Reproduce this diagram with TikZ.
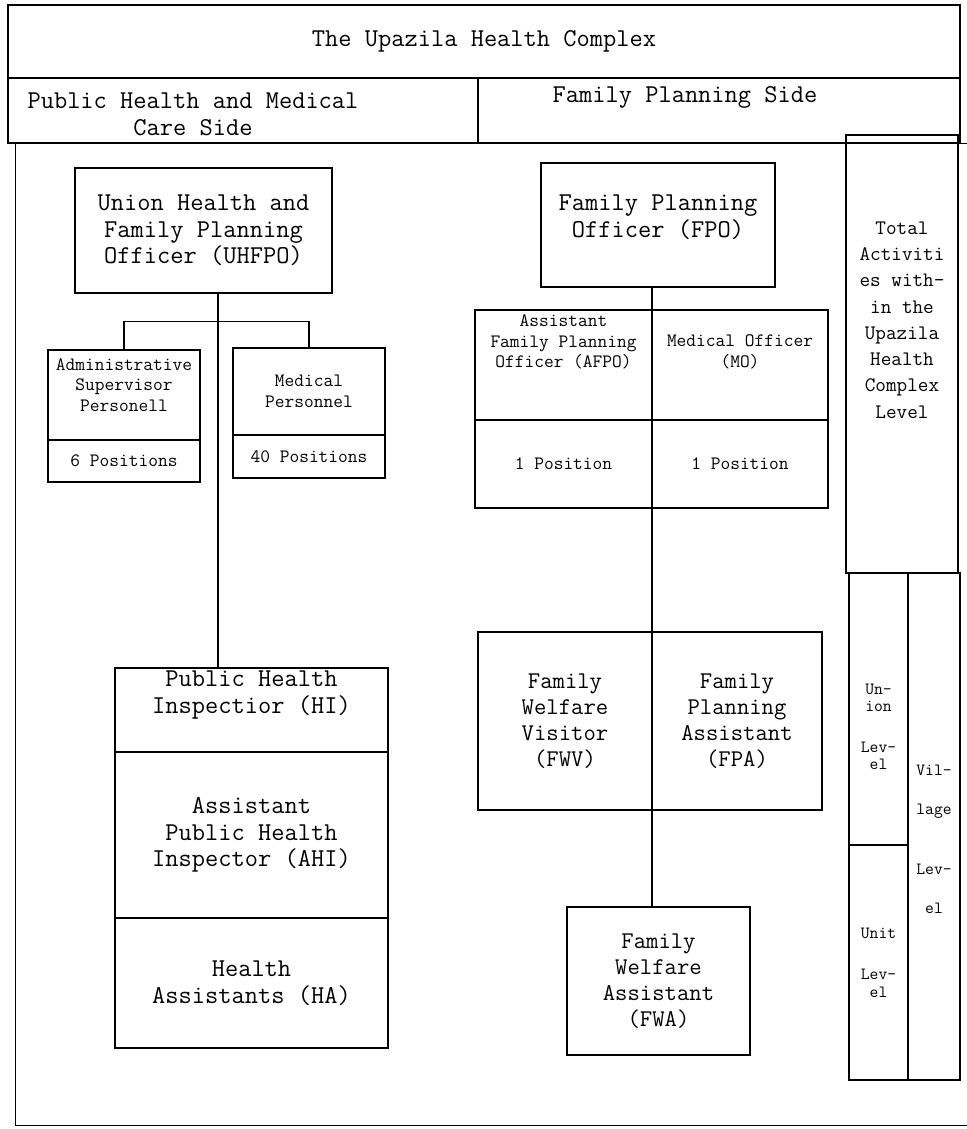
\documentclass[tikz,border=0pt]{standalone}
\usepackage{fontspec}
\renewcommand{\familydefault}{\ttdefault}

\newcommand{\chartfont}{\fontsize{25.7}{26.5}\selectfont}
\newcommand{\chartmid}{\fontsize{24}{26}\selectfont}
\newcommand{\chartsmall}{\fontsize{18.9}{20.5}\selectfont}
\newcommand{\chartside}{\fontsize{20.6}{26.3}\selectfont}
\newcommand{\charttiny}{\fontsize{17.1}{17.5}\selectfont}

\begin{document}
\begin{tikzpicture}[x=1pt, y=-1pt,
	box/.style={draw, line width=1.2pt, inner sep=0pt, align=center, font=\chartfont},
	sbox/.style={box, font=\chartsmall},
	tbox/.style={box, font=\charttiny},
	note/.style={align=center, inner sep=0pt},
	link/.style={line width=1.2pt}]
	\useasboundingbox (0,0) rectangle (966,1129);

	% heading rows
	\node[box, minimum width=952pt, minimum height=73pt] (title) at (484,41.5) {The Upazila Health Complex};
	\node[box, minimum width=470pt, minimum height=65pt,
		label={[note, font=\chartfont, xshift=-50pt, yshift=-4pt]center:Public Health and Medical\\Care Side}] (phside) at (243,110.5) {};
	\node[box, minimum width=482pt, minimum height=65pt,
		label={[note, font=\chartfont, xshift=-34pt, yshift=13.5pt]center:Family Planning Side}] (fpside) at (719,110.5) {};
	\node[box, anchor=north west, minimum width=975pt, minimum height=982pt] (frame) at (15,143) {};

	% levels column
	\node[box, font=\chartside, minimum width=112pt, minimum height=438pt,
		label={[note, font=\chartside, yshift=34pt]center:Total\\Activiti\\es with-\\in the\\Upazila\\Health\\Complex\\Level}] (total) at (902,354) {};
	\node[tbox, minimum width=59pt, minimum height=272pt,
		label={[note, font=\charttiny, yshift=-18pt]center:Un-\\ion\\[23pt]Lev-\\el}] (union) at (878.5,709) {};
	\node[tbox, minimum width=59pt, minimum height=235pt] (unit) at (878.5,962.5) {Unit\\[24pt]Lev-\\el};
	\node[tbox, minimum width=52pt, minimum height=507pt,
		label={[note, font=\charttiny, yshift=-13pt]center:Vil-\\[22pt]lage\\[42pt]Lev-\\[22pt]el}] (village) at (934,826.5) {};

	% public health side
	\node[box, minimum width=257pt, minimum height=125pt] (uhfpo) at (203.5,230.5) {Union Health and\\Family Planning\\Officer (UHFPO)};
	\node[sbox, minimum width=152pt, minimum height=90pt,
		label={[note, font=\chartsmall, yshift=10pt]center:Administrative\\Supervisor\\Personell}] (admin) at (124,395) {};
	\node[sbox, minimum width=152pt, minimum height=42pt] (adminpos) at (124,461) {6 Positions};
	\node[sbox, minimum width=152pt, minimum height=87pt] (medical) at (309,391.5) {Medical\\Personnel};
	\node[sbox, minimum width=152pt, minimum height=43pt] (medicalpos) at (309,456.5) {40 Positions};
	\node[box, minimum width=273pt, minimum height=84pt,
		label={[note, font=\chartfont, yshift=15pt]center:Public Health\\Inspectior (HI)}] (hi) at (251.5,710) {};
	\node[box, minimum width=273pt, minimum height=166pt] (ahi) at (251.5,835) {Assistant\\Public Health\\Inspector (AHI)};
	\node[box, minimum width=273pt, minimum height=130pt] (ha) at (251.5,983) {Health\\Assistants (HA)};

	% family planning side
	\node[box, minimum width=234pt, minimum height=124pt,
		label={[note, font=\chartfont, yshift=8pt]center:Family Planning\\Officer (FPO)}] (fpo) at (658,225) {};
	\node[sbox, minimum width=177pt, minimum height=110pt,
		label={[note, font=\chartsmall, yshift=23pt]center:Assistant\\Family Planning\\Officer (AFPO)}] (afpo) at (563.5,365) {};
	\node[sbox, minimum width=176pt, minimum height=110pt,
		label={[note, font=\chartsmall, yshift=13pt]center:Medical Officer\\(MO)}] (mo) at (740,365) {};
	\node[sbox, minimum width=177pt, minimum height=88pt] (afpopos) at (563.5,464) {1 Position};
	\node[sbox, minimum width=176pt, minimum height=88pt] (mopos) at (740,464) {1 Position};
	\node[box, font=\chartmid, minimum width=174pt, minimum height=178pt] (fwv) at (565,721) {Family\\Welfare\\Visitor\\(FWV)};
	\node[box, font=\chartmid, minimum width=170pt, minimum height=178pt] (fpa) at (737,721) {Family\\Planning\\Assistant\\(FPA)};
	\node[box, font=\chartmid, minimum width=183pt, minimum height=148pt] (fwa) at (658.5,981) {Family\\Welfare\\Assistant\\(FWA)};

	% lines of command
	\draw[link] ([xshift=14.5pt]uhfpo.south) -- ([xshift=14.5pt]uhfpo.south |- hi.north);
	\draw[link] (admin.north) -- ++(0,-28) -| (medical.north);
	\draw[link] ([xshift=-6pt]fpo.south) -- ([xshift=-6pt]fpo.south |- fwa.north);
\end{tikzpicture}
\end{document}
